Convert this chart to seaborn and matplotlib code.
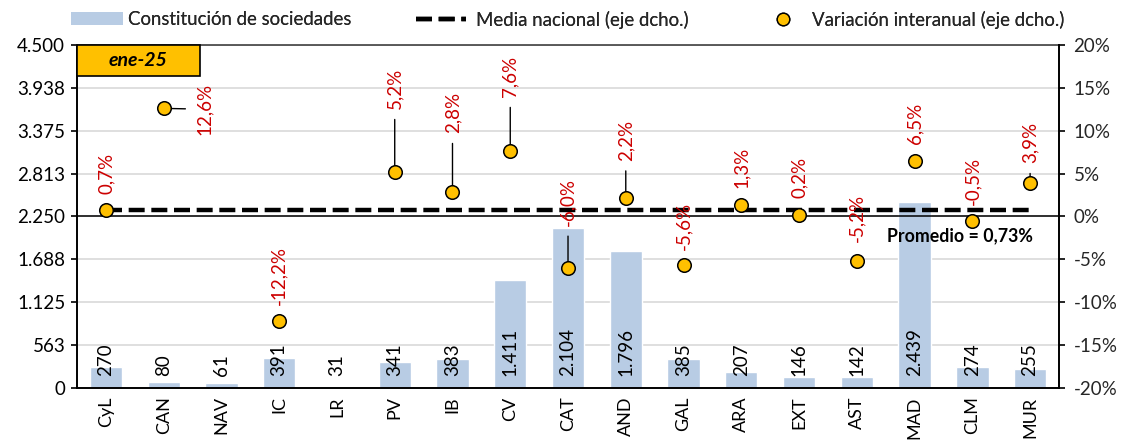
import numpy as np
import matplotlib
matplotlib.use('Agg')
import matplotlib.pyplot as plt
from matplotlib.patches import Patch, Rectangle
from matplotlib.lines import Line2D
import seaborn as sns

# Data (ene-25)
regiones = ['CyL', 'CAN', 'NAV', 'IC', 'LR', 'PV', 'IB', 'CV', 'CAT', 'AND',
            'GAL', 'ARA', 'EXT', 'AST', 'MAD', 'CLM', 'MUR']
sociedades = [270, 80, 61, 391, 31, 341, 383, 1411, 2104, 1796,
              385, 207, 146, 142, 2439, 274, 255]
variacion = [0.7, 12.6, np.nan, -12.2, np.nan, 5.2, 2.8, 7.6, -6.0, 2.2,
             -5.6, 1.3, 0.2, -5.2, 6.5, -0.5, 3.9]
media_nacional = 0.73
periodo = 'ene-25'

# where the red percentage labels sit (right-axis %), and which get a leader line
label_y = [5.0, 12.5, np.nan, -6.9, np.nan, 14.9, 12.1, 16.3, 1.7, 8.9,
           -1.1, 5.7, 4.5, -0.2, 10.9, 4.1, 8.6]
label_dx = [0, 0.7, 0, 0, 0, 0, 0, 0, 0, 0, 0, 0, 0, 0, 0, 0, 0]
leader = [False, True, False, False, False, True, True, True, True, True,
          False, False, False, False, False, False, True]

bar_color = '#B8CCE4'
dot_color = '#FFC000'
red = '#CC0000'

sns.set_theme(style='white')
plt.rcParams['font.family'] = ['Lato', 'DejaVu Sans']
fs = 13.5
fs_tick = 13.5

fig, ax = plt.subplots(figsize=(11.23, 4.4), dpi=100)
fig.subplots_adjust(left=0.0686, right=0.943, top=0.898, bottom=0.118)

x = np.arange(len(regiones))

# bars on the left axis
sns.barplot(x=x, y=sociedades, color=bar_color, width=0.56, saturation=1,
            ax=ax, zorder=2)
for xi, v in zip(x, sociedades):
    ax.annotate(f'{v:,}'.replace(',', '.'), xy=(xi, 0), xytext=(0, 9),
                textcoords='offset points', rotation=90, ha='center',
                va='bottom', fontsize=fs, color='black')

ax.set_xlim(-0.5, len(regiones) - 0.5)
ax.set_ylim(0, 4500)
yt = np.linspace(0, 4500, 9)
ax.set_yticks(yt)
ax.set_yticklabels([f'{int(v + 0.5):,}'.replace(',', '.') for v in yt], fontsize=fs_tick)
ax.yaxis.grid(True, color='#D9D9D9', lw=1.2)
ax.set_axisbelow(True)

ax.set_xticks(x)
ax.set_xticklabels(regiones, rotation=90, fontsize=13)
ax.set_xticks(np.arange(len(regiones) + 1) - 0.5, minor=True)
ax.tick_params(axis='x', which='major', length=0, pad=6)
ax.tick_params(axis='x', which='minor', length=4.5, width=1.2, color='black', direction='out')
ax.tick_params(axis='y', length=4.5, width=1.2, color='black', direction='out', pad=4)
ax.tick_params(axis='both', labelcolor='black')
ax.set_xlabel('')
ax.set_ylabel('')

for side in ['left', 'bottom']:
    ax.spines[side].set_color('black')
    ax.spines[side].set_linewidth(1.4)
ax.spines['top'].set_color('#404040')
ax.spines['top'].set_linewidth(1.2)
ax.spines['right'].set_visible(False)

# right axis: year-on-year variation
ax2 = ax.twinx()
ax2.set_ylim(-20, 20)
ax2.set_yticks(np.arange(-20, 21, 5))
ax2.set_yticklabels([f'{v}%' for v in range(-20, 21, 5)], fontsize=fs_tick)
ax2.tick_params(axis='y', length=4.5, width=1.2, color='black', direction='out', pad=6)
ax2.spines['right'].set_color('black')
ax2.spines['right'].set_linewidth(1.4)
for side in ['left', 'top', 'bottom']:
    ax2.spines[side].set_visible(False)
ax2.grid(False)

ax2.axhline(0, color='black', lw=1.1, zorder=2)
ax2.plot([x[0], x[-1]], [media_nacional, media_nacional], color='black', lw=3.2,
         dashes=(3.6, 1.5), zorder=3)

sns.scatterplot(x=x, y=variacion, s=95, color=dot_color, edgecolor='black',
                linewidth=1.1, ax=ax2, zorder=5, legend=False)

for xi, v, ly, dx, ld in zip(x, variacion, label_y, label_dx, leader):
    if np.isnan(v):
        continue
    txt = f'{v:.1f}%'.replace('.', ',')
    props = dict(arrowstyle='-', color='black', lw=1, shrinkA=5, shrinkB=0) if ld else None
    ax2.annotate(txt, xy=(xi, v), xytext=(xi + dx, ly), textcoords='data',
                 rotation=90, ha='center', va='center', fontsize=fs, color=red,
                 arrowprops=props, zorder=4)

ax2.text(16.05, -2.3, 'Promedio = 0,73%', ha='right', va='center',
         fontsize=12.8, fontweight='bold', color='black', zorder=6)

# period box in the top-left corner
ax.add_patch(Rectangle((0, 0.91), 0.125, 0.09, transform=ax.transAxes,
                       facecolor=dot_color, edgecolor='black', lw=1.2,
                       zorder=6, clip_on=False))
ax.text(0.0625, 0.955, periodo, transform=ax.transAxes, ha='center', va='center',
        fontsize=14, fontweight='bold', fontstyle='italic', color='black', zorder=7)

# legend, three separate entries along the top
h1 = Patch(facecolor=bar_color, edgecolor='none')
h2 = Line2D([], [], color='black', lw=3.2, dashes=(3.6, 1.5))
h3 = Line2D([], [], marker='o', ls='', markerfacecolor=dot_color,
            markeredgecolor='black', markersize=9)
entries = [(h1, 'Constitución de sociedades', 0.063, 2.8, 0.3),
           (h2, 'Media nacional (eje dcho.)', 0.370, 2.7, 0.55),
           (h3, 'Variación interanual (eje dcho.)', 0.688, 1.1, 1.0)]
for h, lab, xf, hl, tp in entries:
    leg = fig.legend([h], [lab], loc='center left', bbox_to_anchor=(xf, 0.955),
                     frameon=False, fontsize=13.4, borderpad=0, borderaxespad=0,
                     handlelength=hl, handletextpad=tp)
    fig.add_artist(leg)

plt.savefig('out.png', dpi=100)
